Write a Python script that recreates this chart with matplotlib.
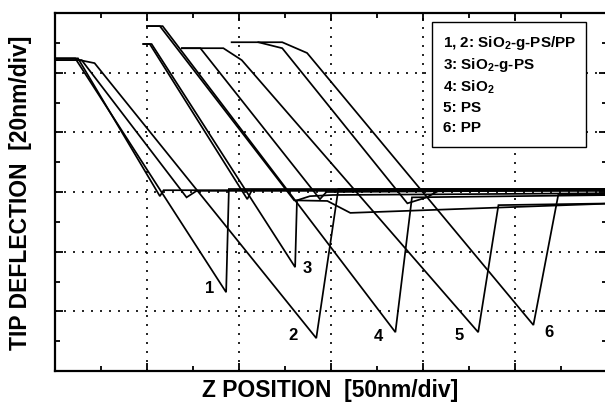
import matplotlib
matplotlib.use("Agg")
import matplotlib.pyplot as plt
from matplotlib.patches import Rectangle
from matplotlib.ticker import MultipleLocator

plt.rcParams['font.family'] = ['Liberation Sans', 'DejaVu Sans']
plt.rcParams['font.weight'] = 'bold'
plt.rcParams['mathtext.fontset'] = 'custom'
plt.rcParams['mathtext.rm'] = 'Liberation Sans:bold'
plt.rcParams['mathtext.it'] = 'Liberation Sans:bold'
plt.rcParams['mathtext.bf'] = 'Liberation Sans:bold'

# force curves, x in [50nm/div], y in [20nm/div]
c1_ret_x = [0.00, 0.22, 1.86, 1.89, 6.10]
c1_ret_y = [5.24, 5.24, 1.32, 3.05, 3.05]
c1_app_x = [0.00, 0.25, 1.14, 1.18, 6.10]
c1_app_y = [5.24, 5.24, 2.93, 3.03, 3.03]

c2_ret_x = [0.00, 0.27, 0.43, 2.84, 3.08, 6.10]
c2_ret_y = [5.21, 5.21, 5.16, 0.55, 3.05, 3.05]
c2_app_x = [0.00, 0.29, 1.43, 1.54, 6.10]
c2_app_y = [5.21, 5.21, 2.91, 3.02, 3.02]

c3_ret_x = [0.96, 1.05, 2.61, 2.63, 2.77, 3.02, 6.10]
c3_ret_y = [5.48, 5.48, 1.74, 2.86, 2.93, 2.95, 2.98]
c3_app_x = [0.96, 1.03, 2.09, 2.14, 6.10]
c3_app_y = [5.48, 5.48, 2.88, 3.03, 3.03]

c4_ret_x = [1.00, 1.17, 3.70, 3.88, 6.10]
c4_ret_y = [5.78, 5.78, 0.65, 2.91, 2.95]
c4_app_x = [1.00, 1.14, 2.60, 2.96, 3.21, 6.10]
c4_app_y = [5.78, 5.78, 2.86, 2.85, 2.65, 2.81]

c5_ret_x = [1.38, 1.83, 2.03, 4.60, 4.82, 6.10]
c5_ret_y = [5.41, 5.41, 5.21, 0.65, 2.78, 2.81]
c5_app_x = [1.38, 1.58, 2.88, 2.95, 6.10]
c5_app_y = [5.41, 5.41, 2.88, 3.00, 3.03]

c6_ret_x = [1.92, 2.47, 2.74, 5.20, 5.47, 6.10]
c6_ret_y = [5.51, 5.51, 5.33, 0.77, 2.95, 2.96]
c6_app_x = [2.21, 2.47, 3.83, 4.04, 4.18, 6.10]
c6_app_y = [5.51, 5.41, 2.81, 2.91, 3.03, 3.05]

curve_labels = ['1', '2', '3', '4', '5', '6']
label_x = [1.68, 2.59, 2.74, 3.51, 4.39, 5.37]
label_y = [1.39, 0.60, 1.71, 0.57, 0.59, 0.65]

legend_lines = ['1, 2: SiO$_2$-g-PS/PP', '3: SiO$_2$-g-PS', '4: SiO$_2$', '5: PS', '6: PP']

fig = plt.figure(figsize=(6.05, 4.11), dpi=100)
ax = fig.add_axes([55 / 605, 40 / 411, 552 / 605, 358 / 411])

curves = [(c1_ret_x, c1_ret_y), (c1_app_x, c1_app_y),
          (c2_ret_x, c2_ret_y), (c2_app_x, c2_app_y),
          (c3_ret_x, c3_ret_y), (c3_app_x, c3_app_y),
          (c4_ret_x, c4_ret_y), (c4_app_x, c4_app_y),
          (c5_ret_x, c5_ret_y), (c5_app_x, c5_app_y),
          (c6_ret_x, c6_ret_y), (c6_app_x, c6_app_y)]
for cx, cy in curves:
    ax.plot(cx, cy, color='black', lw=1.25, solid_joinstyle='miter')

for t, lx, ly in zip(curve_labels, label_x, label_y):
    ax.text(lx, ly, t, fontsize=12, fontweight='bold', ha='center', va='center')

ax.set_xlim(0, 6)
ax.set_ylim(0, 6)
ax.xaxis.set_major_locator(MultipleLocator(1))
ax.xaxis.set_minor_locator(MultipleLocator(0.5))
ax.yaxis.set_major_locator(MultipleLocator(1))
ax.yaxis.set_minor_locator(MultipleLocator(0.5))
ax.tick_params(which='both', direction='in', top=True, right=True,
               labelbottom=False, labelleft=False, width=1.3)
ax.tick_params(which='major', length=6)
ax.tick_params(which='minor', length=3.5)
ax.grid(True, which='major', color='black', lw=1.2, linestyle=(0, (1.2, 4.2)))
for sp in ax.spines.values():
    sp.set_linewidth(1.6)

# legend box
ax.add_patch(Rectangle((0.683, 0.626), 0.279, 0.349, transform=ax.transAxes,
                       facecolor='white', edgecolor='black', lw=1.0, zorder=5))
leg_y = [0.916, 0.855, 0.793, 0.735, 0.679]
for t, ty in zip(legend_lines, leg_y):
    ax.text(0.703, ty, t, transform=ax.transAxes, fontsize=11, fontweight='bold',
            va='center', ha='left', zorder=6)

fig.text(330 / 605, 1 - 390 / 411, 'Z POSITION  [50nm/div]', fontsize=16.5,
         fontweight='bold', ha='center', va='center')
fig.text(21 / 605, 1 - 193 / 411, 'TIP DEFLECTION  [20nm/div]', fontsize=16.5,
         fontweight='bold', ha='center', va='center', rotation=90)

fig.savefig('out.png', dpi=100)
